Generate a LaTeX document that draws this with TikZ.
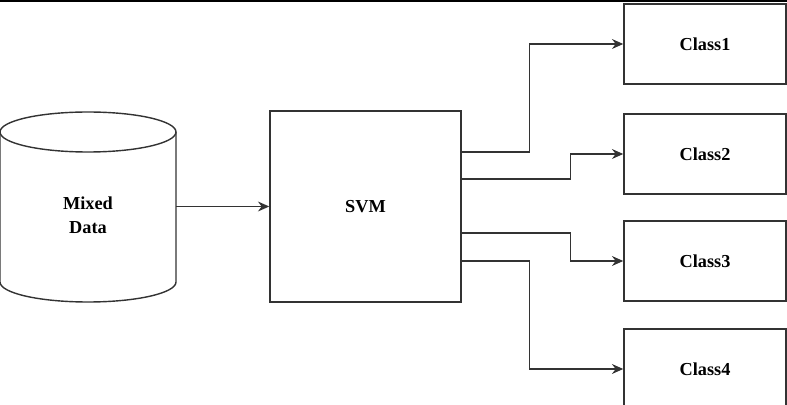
\documentclass[tikz,border=0pt]{standalone}
\usepackage{fontspec}
\setmainfont{Liberation Serif}
\usetikzlibrary{arrows.meta, positioning}
\begin{document}
\begin{tikzpicture}
        [
            x=0.025cm, y=-0.025cm,
            line/.style={draw=black!80, line width=1pt},
            lbl/.style={font=\fontsize{13}{17}\selectfont\bfseries},
            box/.style={rectangle, line, lbl, minimum width=4.05cm, minimum height=2cm},
            arr/.style={line, -{Stealth[length=8pt,width=7pt]}},
        ]
        \clip (0,0) rectangle (787,405);
        \draw[line width=1.6pt] (0,0.6) -- (787,0.6);
        \draw[line] (0,132) -- (0,282) arc (180:0:88 and 20) -- (176,132);
        \draw[line] (88,132) ellipse [x radius=88, y radius=20];
        \node[lbl, align=center, minimum width=4.4cm] (data) at (88,215) {Mixed\\Data};
        \node[box, minimum width=4.775cm, minimum height=4.775cm] (svm) at (365.5,206.5) {SVM};
        \foreach \i/\y in {1/44,2/154,3/261,4/369}
            \node[box] (c\i) at (705,\y) {Class\i};
        \draw[arr] (data.east |- svm.west) -- (svm.west);
        \foreach \i/\y/\d in {1/152/68,2/179/109,3/233/109,4/261/68}
            \draw[arr] (svm.east |- 0,\y) -- ++(\d,0) |- (c\i);
\end{tikzpicture}
\end{document}
